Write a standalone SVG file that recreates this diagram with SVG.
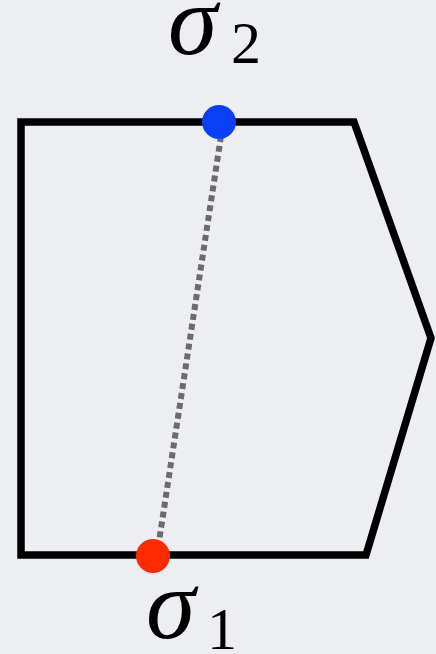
<svg xmlns="http://www.w3.org/2000/svg" width="436" height="654" viewBox="0 0 436 654">
<style>
.lbl{font-family:"Liberation Serif","DejaVu Serif",serif;font-style:italic;font-size:100px;fill:#000}
.sub{font-family:"Liberation Serif","DejaVu Serif",serif;font-size:60px;fill:#000}
</style>
<rect width="436" height="654" fill="#eceef2"/>
<g id="shape">
<polygon points="21,122 354,122 431,338 366,555 21,555" fill="none" stroke="#000" stroke-width="7.5" stroke-linejoin="miter"/>
</g>
<g id="connectors">
<line x1="221" y1="136" x2="158" y2="548" stroke="#6b6b6b" stroke-width="6" stroke-dasharray="6,4"/>
</g>
<g id="sigma2">
<circle cx="219" cy="122" r="17" fill="#0a3ff5"/>
<text class="lbl" x="168" y="54">σ</text>
<text class="sub" x="231" y="63">2</text>
</g>
<g id="sigma1">
<circle cx="153" cy="556" r="17" fill="#ff2a00"/>
<text class="lbl" x="146" y="638">σ</text>
<text class="sub" x="207" y="649">1</text>
</g>
</svg>
